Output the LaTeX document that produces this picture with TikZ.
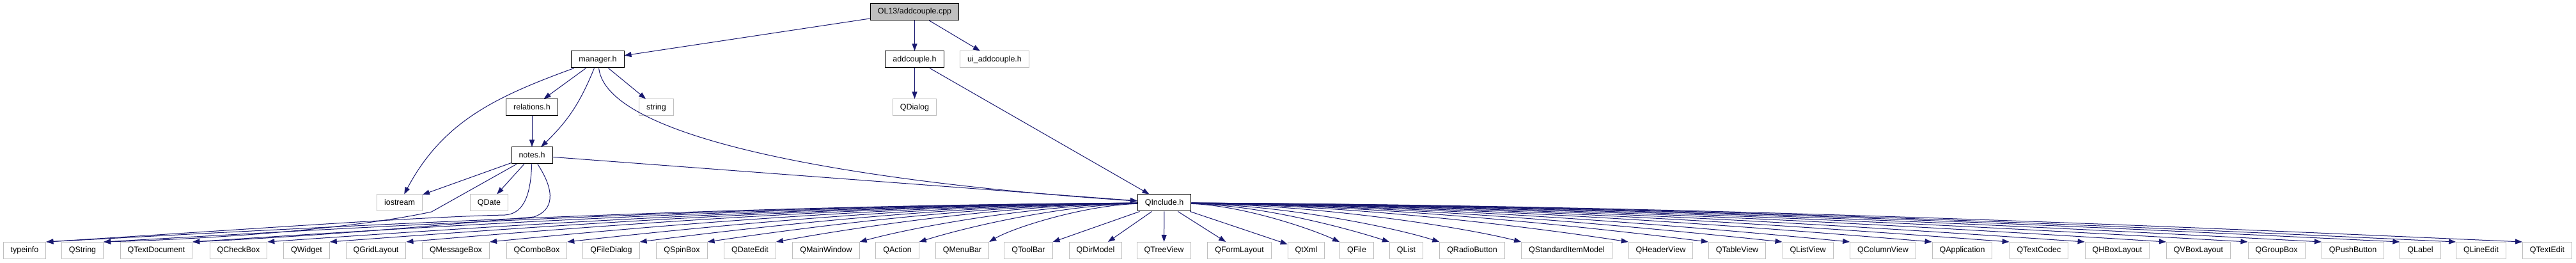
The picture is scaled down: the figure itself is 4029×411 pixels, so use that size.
\documentclass[tikz,border=0pt]{standalone}
\usepackage{fontspec}
\setmainfont{Liberation Sans}
\usepackage{xcolor}
\definecolor{colorEdge}{HTML}{191970}
\definecolor{colorExtern}{HTML}{BFBFBF}
\colorlet{colorRoot}{colorExtern}
\usepackage{tikz}
\usetikzlibrary{arrows.meta, positioning}
\tikzset{
  file/.style={draw=black, line width=1pt, minimum height=26pt, inner xsep=11.5pt, inner ysep=0pt,
    text height=9pt, text depth=2.5pt, font=\fontsize{12.5}{15}\selectfont},
  extfile/.style={file, draw=colorExtern},
  rootfile/.style={file, fill=colorRoot},
  edge/.style={->, colorEdge, line width=1pt},
}

\begin{document}
\begin{tikzpicture}[x=1pt, y=1pt, >={Triangle[length=11pt, width=8pt]}]
\useasboundingbox (0,0) rectangle (4029,411);
% upper files
\node[rootfile] (root) at (1430.5,392.5) {OL13/addcouple.cpp};
\node[file] (manager) at (935,318) {manager.h};
\node[file] (addcouple) at (1430.5,318) {addcouple.h};
\node[extfile] (uiaddcouple) at (1555.5,318) {ui\_addcouple.h};
\node[file] (relations) at (832,243) {relations.h};
\node[extfile] (string) at (1026.5,243) {string};
\node[extfile, below=48pt of addcouple] (qdialog) {QDialog};
\node[file, below=48pt of relations] (notes) {notes.h};
\node[extfile] (iostream) at (625,94) {iostream};
\node[extfile] (qdate) at (765,94) {QDate};
\node[file] (qinclude) at (1821,94) {QInclude.h};
% Qt headers
\foreach \n/\x in {typeinfo/38.5, QString/129, QTextDocument/244.5, QCheckBox/373, QWidget/479.5,
    QGridLayout/588, QMessageBox/713, QComboBox/839.5, QFileDialog/956, QSpinBox/1066.5,
    QDateEdit/1173, QMainWindow/1292, QAction/1403.5, QMenuBar/1505, QToolBar/1608.5,
    QDirModel/1713.5, QTreeView/1820.5, QFormLayout/1938.5, QtXml/2043, QFile/2122,
    QList/2199.5, QRadioButton/2302.5, QStandardItemModel/2450.5, QHeaderView/2597.5,
    QTableView/2717, QListView/2827.5, QColumnView/2945, QApplication/3069, QTextCodec/3189,
    QHBoxLayout/3311.5, QVBoxLayout/3438.5, QGroupBox/3560.5, QPushButton/3680, QLabel/3785.5,
    QLineEdit/3880.5, QTextEdit/3984}
  \node[extfile] (\n) at (\x,19.5) {\n};
% includes
\draw[edge] (root) -- (manager);
\draw[edge] (root) -- (addcouple);
\draw[edge] (root) -- (uiaddcouple);
\draw[edge] (manager) -- (relations);
\draw[edge] (manager) -- (string);
\draw[edge] (manager) to[bend left=12] (notes);
\draw[edge] (manager) to[out=200, in=62] (iostream);
\draw[edge] (manager) .. controls +(15,-130) and +(-450,30) .. (qinclude);
\draw[edge] (relations) -- (notes);
\draw[edge] (notes) -- (iostream);
\draw[edge] (notes) -- (qdate);
\draw[edge] (notes) -- (qinclude);
\draw[edge] (notes) -- (675,80) .. controls (560,55) and (350,38) .. (QString.north east);
\draw[edge] (notes) .. controls +(-2,-70) and (815,77) .. (790,75)
  .. controls (650,72) and (380,52) .. (typeinfo.north east);
\draw[edge] (notes) .. controls (870,110) and (865,82) .. (835,72)
  .. controls (700,60) and (500,42) .. (QTextDocument.north east);
\draw[edge] (addcouple) -- (qdialog);
\draw[edge] (addcouple) -- (qinclude);
\foreach \n/\x in {typeinfo/38.5, QString/129, QTextDocument/244.5, QCheckBox/373, QWidget/479.5,
    QGridLayout/588, QMessageBox/713, QComboBox/839.5, QFileDialog/956, QSpinBox/1066.5,
    QDateEdit/1173, QMainWindow/1292, QAction/1403.5, QMenuBar/1505} {
  \pgfmathsetmacro\ca{1821+(\x-1821)*0.4}
  \pgfmathsetmacro\cb{1821+(\x-1821)*0.75}
  \draw[edge] (qinclude) .. controls (\ca,90) and (\cb,55) .. (\n.north east);
}
\foreach \n in {QToolBar, QDirModel, QTreeView, QFormLayout, QtXml}
  \draw[edge] (qinclude) -- (\n);
\foreach \n/\x in {QFile/2122, QList/2199.5, QRadioButton/2302.5, QStandardItemModel/2450.5,
    QHeaderView/2597.5, QTableView/2717, QListView/2827.5, QColumnView/2945, QApplication/3069,
    QTextCodec/3189, QHBoxLayout/3311.5, QVBoxLayout/3438.5, QGroupBox/3560.5, QPushButton/3680,
    QLabel/3785.5, QLineEdit/3880.5, QTextEdit/3984} {
  \pgfmathsetmacro\ca{1821+(\x-1821)*0.4}
  \pgfmathsetmacro\cb{1821+(\x-1821)*0.75}
  \draw[edge] (qinclude) .. controls (\ca,90) and (\cb,55) .. (\n.north west);
}
\end{tikzpicture}
\end{document}
